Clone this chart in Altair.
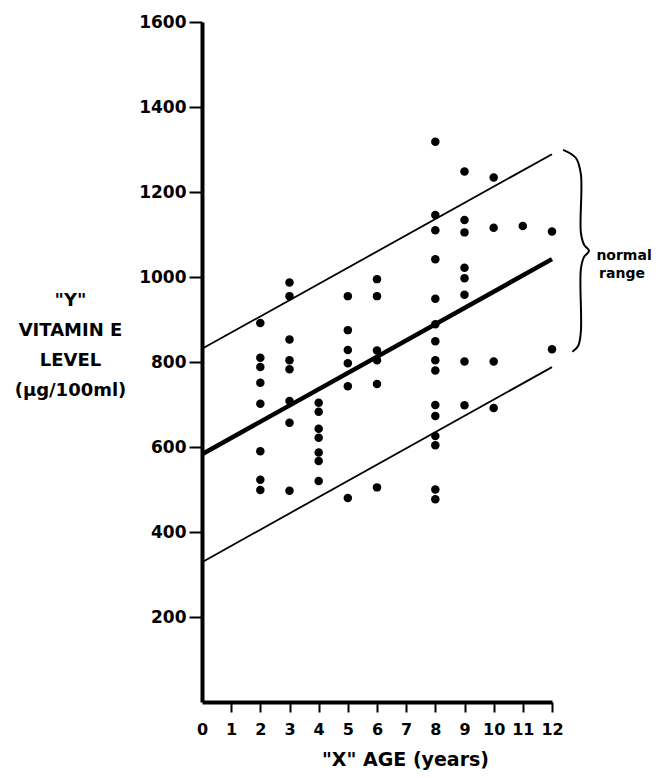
import altair as alt
import pandas as pd

FONT = "DejaVu Sans"

# ---- data ----
age_2 = [892, 810, 788, 751, 702, 590, 523, 499]
age_3 = [987, 955, 853, 804, 783, 708, 657, 497]
age_4 = [704, 683, 643, 622, 587, 567, 520]
age_5 = [955, 875, 828, 797, 743, 480]
age_6 = [995, 955, 827, 804, 748, 505]
age_8 = [1318, 1146, 1110, 1042, 949, 889, 849, 804, 780, 699, 673, 626, 604, 500, 477]
age_9 = [1248, 1134, 1105, 1022, 997, 958, 801, 698]
age_10 = [1234, 1116, 801, 692]
age_11 = [1120]
age_12 = [1107, 830]

groups = {2: age_2, 3: age_3, 4: age_4, 5: age_5, 6: age_6, 8: age_8,
          9: age_9, 10: age_10, 11: age_11, 12: age_12}

line_ages = [0, 12]
center_line = [583, 1042]
upper_line = [831, 1289]
lower_line = [329, 788]

x_ticks = [0, 1, 2, 3, 4, 5, 6, 7, 8, 9, 10, 11, 12]
y_ticks = [200, 400, 600, 800, 1000, 1200, 1400, 1600]

x_title = '"X"  AGE (years)'
y_title = ['"Y"', 'VITAMIN  E', 'LEVEL', '(\u00b5g/100ml)']
range_label = ["normal", "range"]

# ---- tables ----
pts = pd.DataFrame([{"age": a, "level": v} for a, vals in groups.items() for v in vals])

lines = pd.DataFrame(
    [{"age": a, "level": v, "kind": "center"} for a, v in zip(line_ages, center_line)]
    + [{"age": a, "level": v, "kind": "upper"} for a, v in zip(line_ages, upper_line)]
    + [{"age": a, "level": v, "kind": "lower"} for a, v in zip(line_ages, lower_line)]
)
center_df = lines[lines.kind == "center"]
bounds_df = lines[lines.kind != "center"]

# curly brace shape spanning the normal range at the right end
top = upper_line[1] + 10
bot = lower_line[1] + 36
mid = (top + bot) / 2
h = top - bot
brace_shape = [
    (12.38, top), (12.82, top - 0.04 * h), (12.99, top - 0.12 * h),
    (12.99, mid + 0.09 * h), (13.1, mid + 0.03 * h), (13.27, mid),
    (13.1, mid - 0.03 * h), (12.99, mid - 0.09 * h), (12.99, bot + 0.1 * h),
    (12.9, bot + 0.03 * h), (12.7, bot),
]
brace = pd.DataFrame([{"i": i, "age": a, "level": v} for i, (a, v) in enumerate(brace_shape)])

# ---- encodings ----
x_scale = alt.Scale(domain=[0, 12], nice=False, zero=True)
y_scale = alt.Scale(domain=[0, 1600], nice=False, zero=True)

x_axis = alt.Axis(
    values=x_ticks, title=x_title, grid=False, format="d",
    domainColor="black", domainWidth=4,
    tickColor="black", tickWidth=2, tickSize=10,
    tickOpacity=alt.condition("datum.value === 0", alt.value(0), alt.value(1)),
    labelFont=FONT, labelFontWeight="bold", labelFontSize=16, labelColor="black",
    labelPadding=9, labelAngle=0, labelOverlap=False, labelFlush=False,
    labelSeparation=0,
    titleFont=FONT, titleFontWeight="bold", titleFontSize=19, titleColor="black",
    titleX=203, titleY=57, titleAlign="center", titleBaseline="middle",
)
y_axis = alt.Axis(
    values=y_ticks, title=y_title, grid=False, format="d",
    domainColor="black", domainWidth=4,
    tickColor="black", tickWidth=2, tickSize=13,
    labelFont=FONT, labelFontWeight="bold", labelFontSize=17, labelColor="black",
    labelPadding=3, labelOverlap=False, labelFlush=False,
    titleFont=FONT, titleFontWeight="bold", titleFontSize=18, titleColor="black",
    titleAngle=0, titleAlign="center", titleBaseline="top",
    titleX=-132, titleY=269, titleLineHeight=30,
)

X = alt.X("age:Q", scale=x_scale, axis=x_axis)
Y = alt.Y("level:Q", scale=y_scale, axis=y_axis)

points = alt.Chart(pts).mark_circle(size=72, color="black", opacity=1).encode(x=X, y=Y)

center = alt.Chart(center_df).mark_line(color="black", strokeWidth=4.5).encode(x=X, y=Y)
bounds = alt.Chart(bounds_df).mark_line(color="black", strokeWidth=1.8).encode(
    x=X, y=Y, detail="kind:N")

brace_line = alt.Chart(brace).mark_line(
    color="black", strokeWidth=2, interpolate="catmull-rom", clip=False
).encode(x=X, y=Y, order="i:Q")

txt1 = alt.Chart().mark_text(
    text=range_label[0], font=FONT, fontWeight="bold", fontSize=14,
    align="center", baseline="alphabetic", color="black"
).encode(x=alt.XDatum(14.47, scale=x_scale, axis=x_axis),
         y=alt.YDatum(1040, scale=y_scale, axis=y_axis))
txt2 = alt.Chart().mark_text(
    text=range_label[1], font=FONT, fontWeight="bold", fontSize=14,
    align="center", baseline="alphabetic", color="black"
).encode(x=alt.XDatum(14.4, scale=x_scale, axis=x_axis),
         y=alt.YDatum(998, scale=y_scale, axis=y_axis))

chart = alt.layer(bounds, center, points, brace_line, txt1, txt2).properties(
    width=350, height=680,
    autosize=alt.AutoSizeParams(type="none"),
    padding={"left": 194, "top": 14, "right": 106, "bottom": 68},
    background="white",
).configure_view(stroke=None)

chart.save("out.html", embed_options={"renderer": "svg", "actions": False})
